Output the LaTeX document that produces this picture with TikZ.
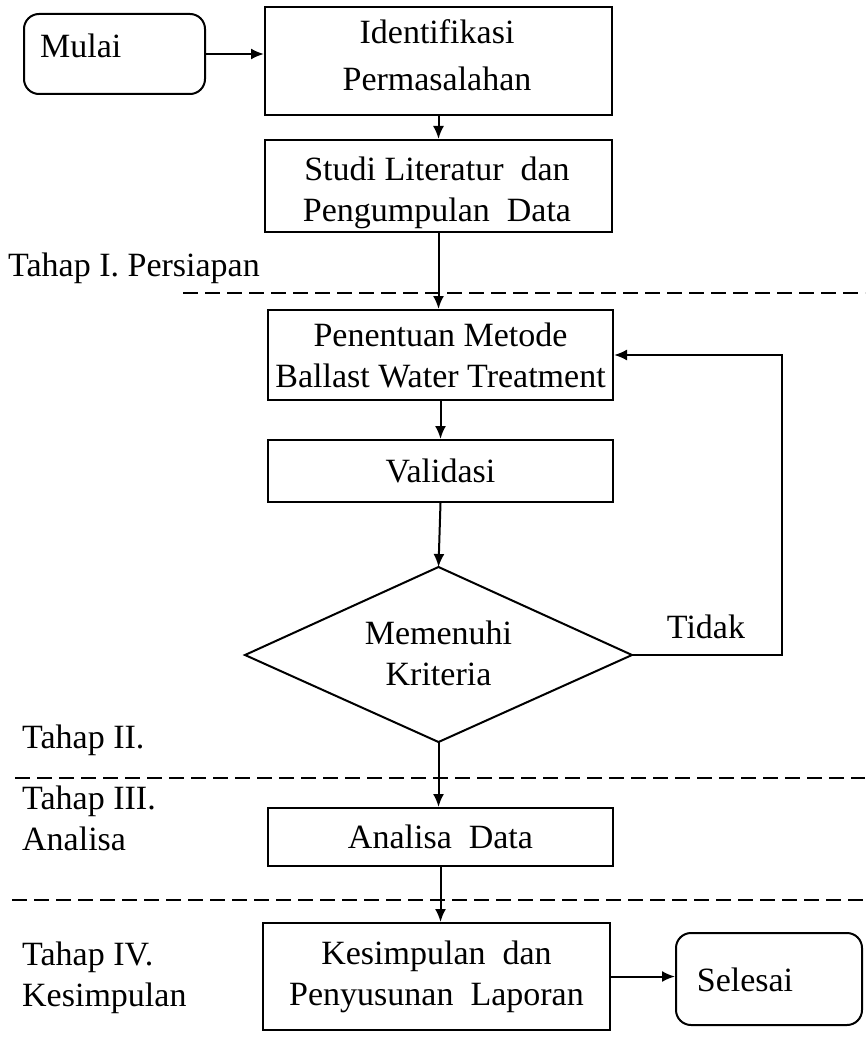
\documentclass[tikz,border=0pt]{standalone}
\usepackage{fontspec}
\setmainfont{Liberation Serif}
\usetikzlibrary{arrows.meta}
\tikzset{
  txt/.style={font=\fontsize{34}{41}\selectfont, inner sep=0pt, align=center},
  box/.style={draw, line width=2pt, rectangle, align=center, inner sep=0pt, font=\fontsize{34}{41}\selectfont},
  terminal/.style={draw, line width=2pt, rectangle, rounded corners=15pt, inner sep=0pt},
  arr/.style={line width=2pt, -{Latex[length=13pt,width=11pt]}},
  sep/.style={line width=2pt, dash pattern=on 15pt off 7pt}
}
\begin{document}
\begin{tikzpicture}[x=1pt,y=-1pt]
\useasboundingbox (0,0) rectangle (865,1062);
% terminals
\node[terminal, minimum width=181pt, minimum height=80pt] (mulai) at (114.5,54) {};
\node[txt, anchor=west] (mulaitxt) at (40,46) {Mulai};
\node[terminal, minimum width=186pt, minimum height=92pt] (sel) at (769,979) {};
\node[txt] (seltxt) at (745,980) {Selesai};
% process boxes
\node[box, minimum width=347pt, minimum height=108pt] (ide) at (438.5,61) {};
\node[txt] (idetxt) at (437,55) {Identifikasi\\[6pt]Permasalahan};
\node[box, minimum width=347pt, minimum height=92pt] (stu) at (438.5,186) {};
\node[txt] (stutxt) at (437,193) {Studi Literatur~ dan\\Pengumpulan~ Data};
\node[box, minimum width=345pt, minimum height=90pt] (pen) at (440.5,355) {Penentuan Metode\\Ballast Water Treatment};
\node[box, minimum width=345pt, minimum height=62pt] (val) at (440.5,471) {Validasi};
% decision
\coordinate (dtop) at (438.5,567);
\coordinate (dleft) at (245,655);
\coordinate (dright) at (632,655);
\coordinate (dbot) at (438.5,742);
\draw[line width=2pt, line join=miter] (dtop) -- (dright) -- (dbot) -- (dleft) -- cycle;
\node[txt] (dia) at (438.5,653) {Memenuhi\\Kriteria};
\node[box, minimum width=345pt, minimum height=58pt] (ana) at (440.5,837) {Analisa~ Data};
\node[box, minimum width=347pt, minimum height=107pt] (kes) at (436.5,976.5) {Kesimpulan~ dan\\Penyusunan~ Laporan};
% labels
\node[txt] (tidak) at (706,627) {Tidak};
\node[txt, anchor=west] (t1) at (8,268) {Tahap I. Persiapan};
\node[txt, anchor=west] (t2) at (22,740) {Tahap II.};
\node[txt, anchor=west, align=left] (t3) at (22,818) {Tahap III.\\Analisa};
\node[txt, anchor=west, align=left] (t4) at (22,978) {Tahap IV.\\Kesimpulan};
% separators
\coordinate (s1a) at (183,293); \coordinate (s1b) at (865,293);
\coordinate (s2a) at (15,778); \coordinate (s2b) at (865,778);
\coordinate (s3a) at (12,900); \coordinate (s3b) at (865,900);
\draw[sep] (s1a) -- (s1b);
\draw[sep] (s2a) -- (s2b);
\draw[sep] (s3a) -- (s3b);
% connectors
\draw[arr] (mulai.east) -- (mulai.east -| ide.west);
\draw[arr] (ide.south) -- (ide.south |- stu.north);
\draw[arr] (stu.south) -- (stu.south |- pen.north);
\draw[arr] (val.north |- pen.south) -- (val.north);
\draw[arr] (val.south) -- (dtop);
\coordinate (loop) at (782,655);
\draw[arr] (dright) -- (loop) |- (pen.east);
\draw[arr] (dbot) -- (dbot |- ana.north);
\draw[arr] (ana.south) -- (ana.south |- kes.north);
\draw[arr] (kes.east) -- (kes.east -| sel.west);
\end{tikzpicture}
\end{document}
